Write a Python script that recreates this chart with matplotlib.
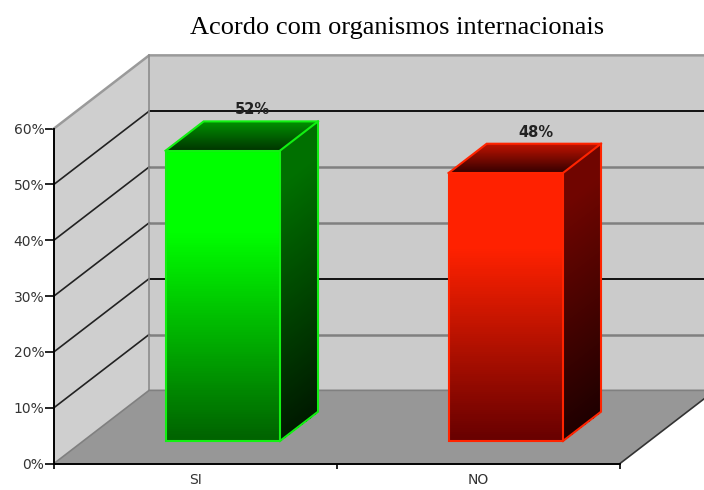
import numpy as np
import matplotlib
matplotlib.use('Agg')
import matplotlib.pyplot as plt

categories = ['SI', 'NO']
values = [52, 48]
labels = ['52%', '48%']
y_ticks = [0, 10, 20, 30, 40, 50, 60]
y_tick_labels = ['0%', '10%', '20%', '30%', '40%', '50%', '60%']
# colours of the back wall lines, 10% to 50%
grid_colors = ['#808080', '#111111', '#808080', '#808080', '#111111']

# fake 3d: how far the back of the chart is shifted, in data units
DX = 0.336
DY = 13.1
Z_FRONT = 0.307
Z_BACK = 0.708
BAR_W = 0.404
BAR_SHIFT = -0.007

def proj(x, y, z):
    return x + DX*z, y + DY*z

def shade(ax, corners, c_top, c_bottom, hold, zorder=5):
    # corners: top left, top right, bottom left, bottom right
    n = 120
    t = np.linspace(0, 1, n+1)
    tl, tr, bl, br = [np.array(c) for c in corners]
    X = np.vstack([[tl[0]+(bl[0]-tl[0])*k, tr[0]+(br[0]-tr[0])*k] for k in t])
    Y = np.vstack([[tl[1]+(bl[1]-tl[1])*k, tr[1]+(br[1]-tr[1])*k] for k in t])
    mid = (t[:-1]+t[1:])/2
    f = np.interp(mid, [0, hold, 1], [0, 0, 1])
    rgb = np.outer(1-f, c_top) + np.outer(f, c_bottom)
    ax.pcolormesh(X, Y, rgb.reshape(n, 1, 3), shading='flat', zorder=zorder,
                  clip_on=False, antialiased=False, rasterized=True)

def outline(ax, pts, color, zorder=6, lw=1.5):
    xs, ys = zip(*pts)
    ax.plot(xs, ys, color=color, lw=lw, zorder=zorder, clip_on=False, solid_joinstyle='miter')

def bar3d(ax, xc, v, pal):
    x0, x1 = xc-BAR_W/2, xc+BAR_W/2
    f_tl, f_tr = proj(x0, v, Z_FRONT), proj(x1, v, Z_FRONT)
    f_bl, f_br = proj(x0, 0, Z_FRONT), proj(x1, 0, Z_FRONT)
    b_tl, b_tr = proj(x0, v, Z_BACK), proj(x1, v, Z_BACK)
    b_br = proj(x1, 0, Z_BACK)
    shade(ax, (f_tl, f_tr, f_bl, f_br), pal['front'][0], pal['front'][1], 0.28)
    shade(ax, (f_tr, b_tr, f_br, b_br), pal['side'][0], pal['side'][1], 0.12)
    shade(ax, (b_tl, b_tr, f_tl, f_tr), pal['top'][0], pal['top'][1], 0.02)
    outline(ax, [f_tl, f_tr, f_br, f_bl, f_tl], pal['edge'])
    outline(ax, [f_tl, b_tl, b_tr, b_br, f_br], pal['edge'])
    outline(ax, [f_tr, b_tr], pal['edge'])

green = {'front': ((0, 1, 0), (0, .38, 0)), 'side': ((0, .44, 0), (0, .1, 0)),
         'top': ((0, .56, 0), (0, .2, 0)), 'edge': '#12f012'}
red = {'front': ((1, .13, 0), (.4, 0, 0)), 'side': ((.44, .02, 0), (.12, 0, 0)),
       'top': ((.74, .07, 0), (.2, 0, 0)), 'edge': '#ff2400'}

plt.rcParams['font.family'] = ['DejaVu Sans']
fig = plt.figure(figsize=(7.04, 4.9), dpi=100)
ax = fig.add_axes([54/704, 1-463.5/490, (620-54)/704, (463.5-128.5)/490])
ax.set_xlim(0, 2)
ax.set_ylim(0, 60)
ax.patch.set_visible(False)

# walls and floor
back = [proj(0, 0, 1), proj(2, 0, 1), proj(2, 60, 1), proj(0, 60, 1)]
side = [proj(0, 0, 0), proj(0, 0, 1), proj(0, 60, 1), proj(0, 60, 0)]
floor = [proj(0, 0, 0), proj(2, 0, 0), proj(2, 0, 1), proj(0, 0, 1)]
ax.add_patch(plt.Polygon(back, fc='#cbcbcb', ec='none', zorder=1, clip_on=False))
ax.add_patch(plt.Polygon(side, fc='#cfcfcf', ec='none', zorder=1, clip_on=False))
ax.add_patch(plt.Polygon(floor, fc='#979797', ec='none', zorder=2, clip_on=False))

for t, c in zip(y_ticks[1:-1], grid_colors):
    outline(ax, [proj(0, t, 1), proj(2, t, 1)], c, zorder=2, lw=1.8 if c != '#111111' else 1.4)
    outline(ax, [proj(0, t, 0), proj(0, t, 1)], '#222222', zorder=2, lw=1.2)
outline(ax, [proj(0, 60, 0), proj(0, 60, 1), proj(2, 60, 1)], '#9a9a9a', zorder=3, lw=1.8)
outline(ax, [proj(0, 0, 1), proj(0, 60, 1)], '#8c8c8c', zorder=3, lw=1.2)
outline(ax, [proj(0, 0, 0), proj(0, 0, 1), proj(2, 0, 1)], '#808080', zorder=3, lw=1.2)
outline(ax, [proj(2, 0, 0), proj(2, 0, 1)], '#333333', zorder=3, lw=1.2)

xpos = [0.5, 1.5]
for xc, v, lab, pal in zip(xpos, values, labels, [green, red]):
    bar3d(ax, xc+BAR_SHIFT, v, pal)
    lx, ly = proj(xc+BAR_SHIFT, v, 0.62)
    ax.annotate(lab, (lx, ly), xytext=(0, 13), textcoords='offset points', ha='center',
                va='center', fontsize=10.5, fontweight='bold', color='#222222', zorder=8,
                annotation_clip=False)

for s in ['top', 'right']:
    ax.spines[s].set_visible(False)
for s in ['left', 'bottom']:
    ax.spines[s].set_linewidth(1.4)
    ax.spines[s].set_zorder(7)
ax.set_yticks(y_ticks)
ax.set_yticklabels(y_tick_labels, fontsize=10, color='#333333')
ax.set_xticks([0, 1, 2])
ax.set_xticklabels([])
ax.set_xticks(xpos, minor=True)
ax.set_xticklabels(categories, minor=True, fontsize=10, color='#333333')
ax.tick_params(axis='x', which='minor', length=0, pad=7)
ax.tick_params(axis='x', which='major', length=3.5, width=1.2)
ax.tick_params(axis='y', length=6.5, width=1.2, pad=0.5)

fig.text(397/704, 1-28/490, 'Acordo com organismos internacionais', ha='center', va='center',
         fontsize=19, family='Liberation Serif', color='black')

fig.savefig('out.png', dpi=100)
